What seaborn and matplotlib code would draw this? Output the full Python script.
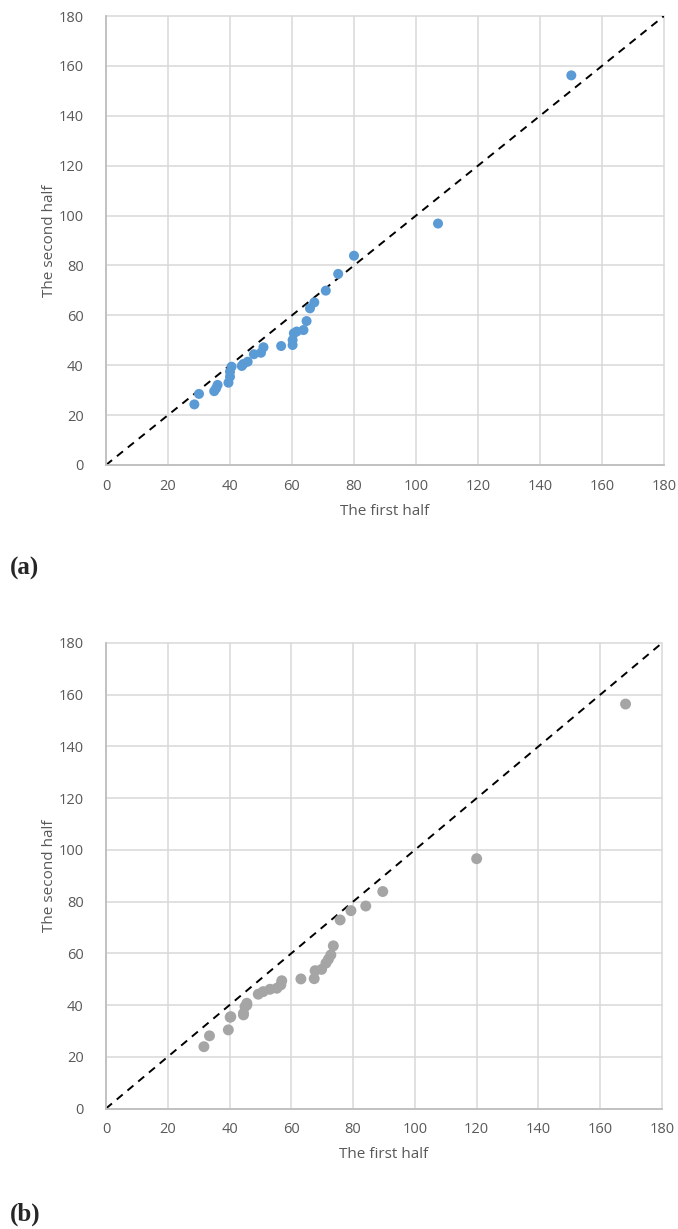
import pandas as pd
import matplotlib.pyplot as plt
import seaborn as sns

# panel (a)
a_first = [28.5, 30, 34.9, 35.5, 36, 39.5, 40, 40, 40.5, 43.8, 44.3, 45.7, 47.7, 50,
           50.8, 56.5, 60.2, 60.2, 60.6, 61.5, 63.7, 64.7, 65.8, 67.2, 70.9, 74.9, 80,
           107.1, 150.1]
a_second = [24.3, 28.5, 29.6, 30.7, 32.1, 33, 35.4, 37.4, 39.4, 39.7, 40.5, 41.4, 44.4, 45,
            47.2, 47.7, 48.1, 50.1, 52.8, 53.5, 54.1, 57.7, 62.8, 65.2, 69.9, 76.6, 83.9,
            96.8, 156.2]

# panel (b)
b_first = [31.7, 33.5, 39.6, 40.2, 40.4, 44.5, 44.5, 45.0, 45.6, 45.6, 49.3, 50.9, 53.1,
           55.3, 56.6, 56.9, 63.1, 67.4, 67.7, 69.8, 71.2, 72.0, 72.8, 73.6, 75.8, 79.3,
           84.1, 89.6, 120.0, 168.2]
b_second = [23.9, 28.1, 30.4, 35.3, 35.5, 36.2, 36.8, 39.4, 40.0, 40.7, 44.2, 45.2, 46.1,
            46.5, 47.8, 49.4, 50.1, 50.2, 53.3, 53.8, 56.2, 57.7, 59.4, 62.9, 72.9, 76.5,
            78.3, 83.9, 96.6, 156.4]

ticks = [0, 20, 40, 60, 80, 100, 120, 140, 160, 180]

sns.set_style('white')
plt.rcParams['font.family'] = ['Open Sans', 'DejaVu Sans']

fig = plt.figure(figsize=(6.78, 12.29), dpi=100)
ax_a = fig.add_axes([106/678, 1 - 465/1229, 558/678, 449/1229])
ax_b = fig.add_axes([106/678, 1 - 1108.5/1229, 556/678, 465.5/1229])

panels = [(ax_a, a_first, a_second, '#5b9bd5', 52),
          (ax_b, b_first, b_second, '#a5a5a5', 62)]

for ax, xs, ys, col, size in panels:
    df = pd.DataFrame({'first': xs, 'second': ys})
    ax.plot([0, 180], [0, 180], color='black', lw=1.4, ls=(0, (4, 3.2)), zorder=2)
    sns.scatterplot(data=df, x='first', y='second', ax=ax, color=col, s=size,
                    edgecolor='none', zorder=3)
    ax.set_xlim(0, 180)
    ax.set_ylim(0, 180)
    ax.set_xticks(ticks)
    ax.set_yticks(ticks)
    ax.grid(True, color='#d9d9d9', lw=1.1)
    ax.set_axisbelow(True)
    for gl in ax.get_xgridlines() + ax.get_ygridlines():
        gl.set_clip_on(False)
    for side in ['top', 'right']:
        ax.spines[side].set_visible(False)
    for side in ['left', 'bottom']:
        ax.spines[side].set_color('#bfbfbf')
        ax.spines[side].set_linewidth(1.3)
    ax.tick_params(axis='both', length=0, labelsize=10.5, labelcolor='#595959')
    ax.tick_params(axis='x', pad=10)
    ax.tick_params(axis='y', pad=16)
    ax.set_xlabel('The first half', fontsize=11, color='#595959', labelpad=7)
    ax.set_ylabel('The second half', fontsize=11, color='#595959', labelpad=1)

fig.text(10/678, 1 - 568/1229, '(a)', fontsize=18, fontweight='bold',
         family='Liberation Serif', va='center')
fig.text(10/678, 1 - 1214/1229, '(b)', fontsize=18, fontweight='bold',
         family='Liberation Serif', va='center')

fig.savefig('out.png', dpi=100)
